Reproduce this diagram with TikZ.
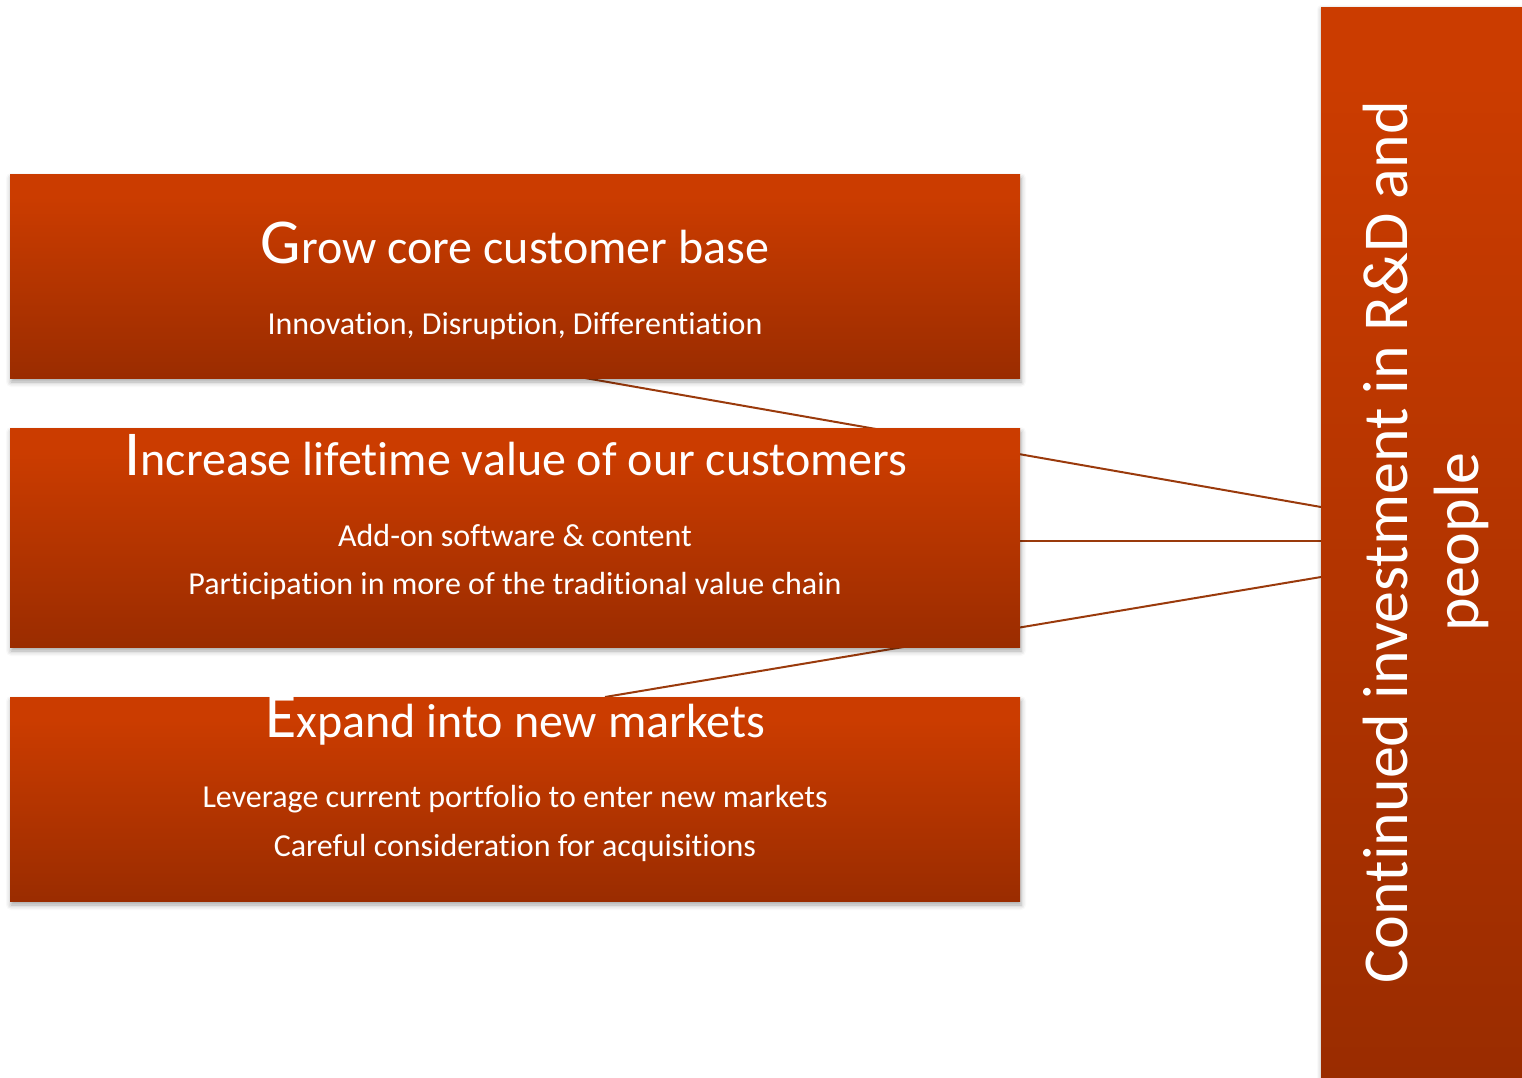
\documentclass[tikz,border=0pt]{standalone}
\usepackage{fontspec}
\setmainfont{Carlito}[Ligatures=NoCommon]
\usetikzlibrary{shadows.blur,calc}

\definecolor{warmTop}{HTML}{CB3C00}
\definecolor{warmBot}{HTML}{9A2C00}
\definecolor{linkBrown}{HTML}{9A3A0C}

% box fill: flat band at the top, then a fade to the darker tone
\pgfdeclareverticalshading{boxfade}{100bp}{%
  color(0bp)=(warmBot); color(25bp)=(warmBot);
  color(69.5bp)=(warmTop); color(100bp)=(warmTop)}
\pgfdeclareverticalshading{barfade}{100bp}{%
  color(0bp)=(warmBot); color(25bp)=(warmBot);
  color(71.5bp)=(warmTop); color(100bp)=(warmTop)}

\pgfdeclarelayer{links}
\pgfsetlayers{links,main}

\newcommand\leadcap[2]{{\fontsize{64pt}{64pt}\selectfont #1}#2}

\tikzset{
  goalbox/.style={rectangle, inner sep=0pt, outer sep=0pt,
    minimum width=1010pt, minimum height=#1,
    shading=boxfade,
    blur shadow={shadow xshift=1pt, shadow yshift=-4pt,
      shadow blur radius=5pt, shadow opacity=35}},
  barbox/.style={rectangle, inner sep=0pt, outer sep=0pt,
    minimum width=201pt, minimum height=1070pt,
    shading=barfade,
    blur shadow={shadow xshift=0pt, shadow yshift=-2pt,
      shadow blur radius=4pt, shadow opacity=30}},
  headline/.style={anchor=base, inner sep=0pt, text=white,
    font=\fontsize{48pt}{48pt}\selectfont},
  detail/.style={anchor=base, inner sep=0pt, text=white,
    font=\fontsize{32pt}{32pt}\selectfont},
  bartext/.style={anchor=base, inner sep=0pt, text=white, rotate=90,
    font=\fontsize{64pt}{64pt}\selectfont},
  link/.style={draw=linkBrown, line width=2pt}
}

\begin{document}
\begin{tikzpicture}[x=1pt, y=-1pt]
\useasboundingbox (0,0) rectangle (1522,1077);

% three goal boxes
\node[goalbox=204pt] (g1) at (515,276) {};
\node[goalbox=219pt] (g2) at (515,537.5) {};
\node[goalbox=204pt] (g3) at (515,799) {};

% investment bar on the right
\node[barbox] (bar) at (1421.5,542) {};

% texts in the boxes
\node[headline] (t1) at (515,263) {\leadcap{G}{row core customer base}};
\node[detail]   (s1) at (515,334) {Innovation, Disruption, Differentiation};

\node[headline] (t2) at (516,475) {\leadcap{I}{ncrease lifetime value of our customers}};
\node[detail]   (s2a) at (515,546) {Add-on software \& content};
\node[detail]   (s2b) at (515,594.5) {Participation in more of the traditional value chain};

\node[headline] (t3) at (515,737) {\leadcap{E}{xpand into new markets}};
\node[detail]   (s3a) at (515,807) {Leverage current portfolio to enter new markets};
\node[detail]   (s3b) at (515,856) {Careful consideration for acquisitions};

% vertical label of the bar
\node[bartext] (b1) at (1407,542) {Continued investment in R\&D and};
\node[bartext] (b2) at (1478,542) {people};

% connectors, kept behind the boxes
\begin{pgfonlayer}{links}
  \draw[link] ($(bar.west)+(0,-35)$) -- ($(g1.south)+(70,0)$);
  \draw[link] (bar.west) ++(0,-1) -- ($(g2.east)+(0,3.5)$);
  \draw[link] ($(bar.west)+(0,35)$) -- ($(g3.north)+(90,0)$);
\end{pgfonlayer}
\end{tikzpicture}
\end{document}
